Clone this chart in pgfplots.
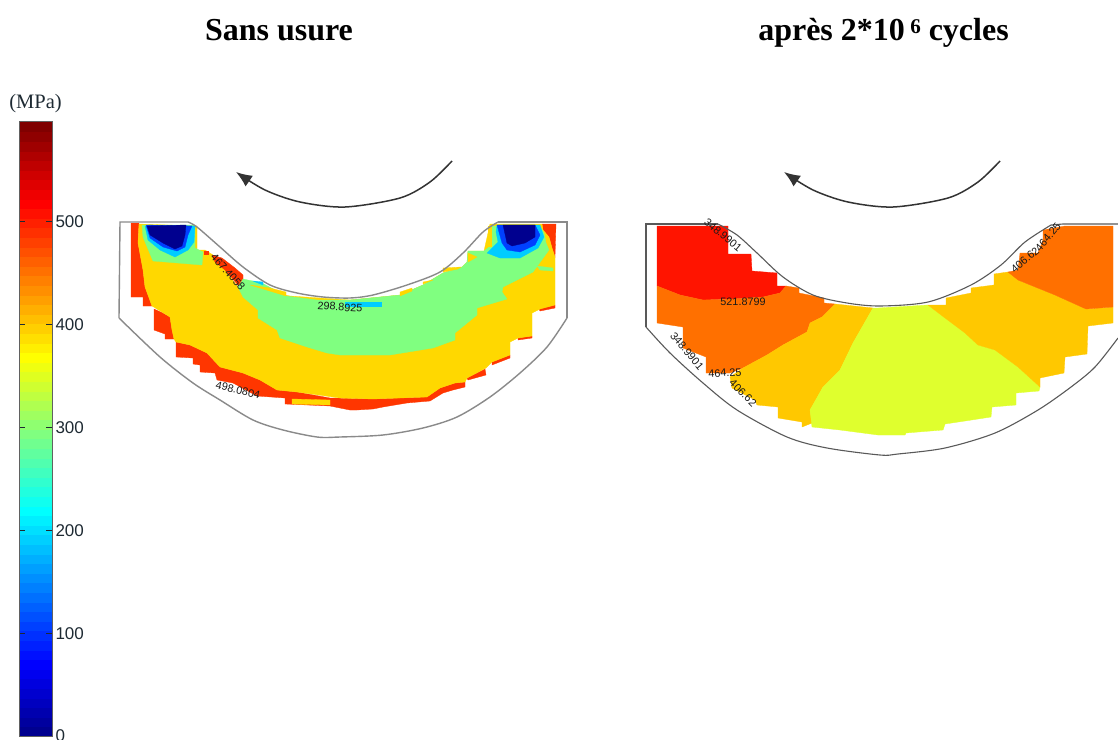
\documentclass[border=0pt]{standalone}
\usepackage{pgfplots}
\pgfplotsset{compat=1.18}
\usepackage{fontspec}
\setmainfont{Liberation Sans}
\newfontfamily\tnr{Liberation Serif}
\usetikzlibrary{arrows.meta}
\definecolor{lRed}{HTML}{FF3600}
\definecolor{lYel}{HTML}{FFD800}
\definecolor{lGrn}{HTML}{80FF80}
\definecolor{lCyn}{HTML}{00CCFF}
\definecolor{lBlu}{HTML}{0040FF}
\definecolor{lNav}{HTML}{00008F}
\definecolor{rRed}{HTML}{FF1400}
\definecolor{rOrg}{HTML}{FF7000}
\definecolor{rAmb}{HTML}{FFC800}
\definecolor{rLim}{HTML}{DFFF2E}
\definecolor{outl}{HTML}{8A8A8A}
\definecolor{txt}{HTML}{1E2A33}
\newcommand\band[5]{\addplot[fill={rgb,1:red,#3;green,#4;blue,#5},draw={rgb,1:red,#3;green,#4;blue,#5},line width=0.2pt] coordinates {(0,#1)(1,#1)(1,#2)(0,#2)} --cycle;}
\pgfplotsset{P/.style={fill=#1,draw=#1,line width=0.3pt}}
\begin{document}
\begin{tikzpicture}
\useasboundingbox (0,0) rectangle (1118pt,739pt);
\clip (0,0) rectangle (1118pt,739pt);
\begin{axis}[at={(0pt,0pt)},anchor=south west,width=1118pt,height=739pt,scale only axis,
  xmin=0,xmax=1118,ymin=0,ymax=739,y dir=reverse,hide axis]
% left field
\addplot[P=lRed] coordinates {(131,223)(139,223)(138,243)(143,270)(145,287)(152,306)(143,306)(143,297)(131,297)} --cycle;
\addplot[P=lRed] coordinates {(154,309)(163,313)(170,317)(172,330)(174,339)(165,339)(165,334)(154,330)} --cycle;
\addplot[P=lRed] coordinates {(176,342)(190,345)(207,353)(220,367)(243,373)(260,380)(277,390)(297,392)(330,398)(373,399)(400,398)(427,397)(440,388)(455,383)(465,382)(465,387)(453,390)(443,393)(430,401)(407,403)(383,407)(373,409)(357,410)(350,410)(340,408)(330,406)(285,404)(285,398)(257,396)(233,383)(217,380)(215,373)(200,372)(200,365)(193,364)(193,358)(176,357)} --cycle;
\addplot[P=lRed] coordinates {(467,378)(485,369)(486,375)(468,380)} --cycle;
\addplot[P=lRed] coordinates {(492,362)(510,355)(510,358)(492,365)} --cycle;
\addplot[P=lRed] coordinates {(518,338)(532,336)(532,338)(518,340)} --cycle;
\addplot[P=lRed] coordinates {(539,309)(555,305)(555,308)(540,311)} --cycle;
\addplot[P=lRed] coordinates {(542,224)(556,224)(555,257)(552,248)(549,237)(543,230)} --cycle;
\addplot[P=lYel] coordinates {(139,224)(197,226)(197,250)(205,250)(213,255)(225,270)(238,287)(290,296)(350,300)(400,295)(423,285)(443,273)(462,267)(467,262)(468,251)(484,251)(490,224)(542,224)(543,230)(549,237)(552,248)(555,257)(555,305)(540,309)(532,313)(532,336)(518,338)(510,342)(510,355)(492,362)(486,368)(467,378)(465,382)(455,383)(440,388)(427,397)(400,398)(373,399)(340,398)(297,392)(277,390)(260,380)(243,373)(220,367)(207,353)(190,345)(176,342)(174,339)(172,330)(170,317)(152,306)(145,287)(143,270)(138,243)} --cycle;
\addplot[P=lRed] coordinates {(212,255)(222,258)(235,268)(243,275)(243,283)(238,285)(225,270)(215,262)} --cycle;
\addplot[P=lRed] coordinates {(204,251)(208,251)(208,254)(204,254)} --cycle;
\addplot[P=lGrn] coordinates {(238,287)(243,279)(262,283)(286,296)(317,300)(350,300)(400,295)(423,285)(443,273)(462,267)(467,262)(468,251)(484,251)(489,247)(489,226)(540,226)(544,233)(546,243)(549,250)(533,272)(503,287)(502,292)(507,299)(477,308)(477,315)(455,333)(455,340)(433,348)(390,355)(340,355)(327,353)(307,347)(280,338)(277,330)(258,318)(258,310)(243,297)} --cycle;
\addplot[P=lGrn] coordinates {(537,266)(553,268)(553,271)(540,270)} --cycle;
\addplot[P=lYel] coordinates {(250,285)(270,288)(286,292)(286,296)(260,288)} --cycle;
\addplot[P=lYel] coordinates {(400,292)(412,288)(412,291)(400,296)} --cycle;
\addplot[P=lYel] coordinates {(423,282)(433,280)(423,284)} --cycle;
\addplot[P=lYel] coordinates {(443,268)(461,267)(458,269)(443,272)} --cycle;
\addplot[P=lYel] coordinates {(468,253)(477,257)(468,262)} --cycle;
\addplot[P=lYel] coordinates {(292,399)(330,400)(330,405)(292,404)} --cycle;
\addplot[P=lYel] coordinates {(488,226)(491,226)(491,246)(488,246)} --cycle;
\addplot[P=lCyn] coordinates {(345,302)(381,302)(381,306)(345,306)} --cycle;
\addplot[P=lCyn] coordinates {(253,281)(263,282)(263,285)} --cycle;
\addplot[P=lGrn] coordinates {(142,225)(143,237)(153,261)(202,265)(203,252)(195,248)(195,225)} --cycle;
\addplot[P=lCyn] coordinates {(145,226)(148,240)(160,250)(175,257)(188,250)(194,242)(195,226)} --cycle;
\addplot[P=lBlu] coordinates {(146,225)(150,238)(163,247)(177,251)(185,247)(188,235)(192,226)} --cycle;
\addplot[P=lNav] coordinates {(147,226)(150,235)(163,243)(175,249)(182,246)(185,235)(186,225)} --cycle;
\addplot[P=lCyn] coordinates {(487,253)(500,258)(520,258)(538,248)(544,237)(540,225)(497,225)(496,232)(498,242)} --cycle;
\addplot[P=lBlu] coordinates {(497,225)(502,243)(507,250)(520,252)(535,245)(540,235)(535,225)} --cycle;
\addplot[P=lNav] coordinates {(503,225)(507,243)(512,246)(525,243)(535,237)(535,225)} --cycle;
% left outline
\addplot[outl,line width=1.4pt] coordinates {(119,318)(120,222)(188,222)};
\addplot[outl,line width=1.4pt,smooth] coordinates {(188,222)(197,227)(220,247)(243,267)(270,285)(297,293)(323,297)(350,298)(373,295)(407,285)(440,272)(463,253)(483,232)(498,222)};
\addplot[outl,line width=1.4pt] coordinates {(498,222)(567,222)(567,318)};
\addplot[outl,line width=1.4pt,smooth] coordinates {(567,318)(547,347)(520,373)(490,397)(457,417)(423,428)(383,435)(340,437)(317,437)(283,430)(253,420)(220,400)(193,383)(160,357)(119,318)};
% right field
\addplot[P=rRed] coordinates {(657,226)(728,226)(728,254)(751,254)(752,271)(777,273)(777,286)(786,286)(780,293)(763,297)(733,299)(703,300)(680,295)(657,286)} --cycle;
\addplot[P=rOrg] coordinates {(657,286)(680,295)(703,300)(733,299)(763,297)(780,293)(786,286)(799,288)(799,293)(824,298)(824,303)(835,304)(822,317)(810,323)(807,332)(783,345)(767,355)(743,368)(730,373)(706,373)(706,357)(683,348)(683,327)(657,323)} --cycle;
\addplot[P=rAmb] coordinates {(835,304)(873,308)(853,343)(840,370)(823,387)(810,410)(812,423)(802,427)(802,422)(778,418)(778,407)(757,405)(755,400)(732,388)(730,377)(743,368)(767,355)(783,345)(807,332)(810,323)(822,317)} --cycle;
\addplot[P=rLim] coordinates {(873,308)(878,308)(928,305)(945,318)(965,333)(978,345)(995,350)(1018,367)(1040,387)(1039,391)(1016,393)(1016,405)(992,407)(991,417)(965,421)(945,424)(943,430)(906,433)(905,435)(878,435)(840,430)(812,427)(810,410)(823,387)(840,370)(853,343)} --cycle;
\addplot[P=rAmb] coordinates {(928,305)(946,305)(946,298)(971,293)(971,288)(994,285)(994,274)(1008,272)(1018,280)(1055,295)(1086,309)(1113,307)(1113,323)(1088,326)(1087,354)(1065,357)(1064,373)(1040,378)(1040,387)(1018,367)(995,350)(978,345)(965,333)(945,318)} --cycle;
\addplot[P=rOrg] coordinates {(1008,272)(1018,270)(1020,253)(1038,253)(1043,240)(1043,230)(1065,226)(1113,226)(1113,307)(1086,309)(1055,295)(1018,280)} --cycle;
% right outline
\addplot[black!65,line width=1.1pt] coordinates {(646,327)(646,224)(718,224)};
\addplot[black!65,line width=1.1pt,smooth] coordinates {(718,224)(737,235)(757,253)(783,277)(813,295)(847,303)(880,306)(928,302)(971,285)(1001,265)(1025,242)(1051,225)};
\addplot[black!65,line width=1.1pt] coordinates {(1051,225)(1063,224)(1118,224)};
\addplot[black!65,line width=1.1pt,smooth] coordinates {(1118,338)(1095,367)(1071,387)(1038,410)(995,433)(945,448)(898,454)(880,455)(827,448)(787,437)(737,410)(703,383)(670,353)(646,327)};
% arrows
\addplot[black!80,line width=1.5pt,smooth,-{Latex[length=16pt,width=13pt]}] coordinates {(452,161)(430,182)(400,198)(345,207)(300,202)(265,190)(236,172)};
\addplot[black!80,line width=1.5pt,smooth,-{Latex[length=16pt,width=13pt]}] coordinates {(1000,161)(978,182)(948,198)(893,207)(848,202)(813,190)(784,172)};
% texts
\node[font=\tnr\bfseries\fontsize{32}{36}\selectfont,inner sep=0pt,anchor=base] at (axis cs:279,41) {Sans usure};
\node[font=\tnr\bfseries\fontsize{32}{36}\selectfont,inner sep=0pt,anchor=base] at (axis cs:883.5,41) {après 2*10\,\raisebox{7pt}{\fontsize{21}{24}\selectfont 6} cycles};
\node[font=\tnr\fontsize{20.5}{24}\selectfont,text=txt,inner sep=0pt] at (axis cs:35.5,104) {(MPa)};
\tikzset{lab/.style={font=\fontsize{10.8}{12}\selectfont,inner sep=0pt,text=black!90}}
\node[lab,rotate=-4] at (axis cs:340,307) {298.8925};
\node[lab,rotate=-48] at (axis cs:228,272) {467.4058};
\node[lab,rotate=-14] at (axis cs:238,390) {498.0804};
\node[lab,rotate=-40] at (axis cs:723,235) {348.9901};
\node[lab] at (axis cs:743,302) {521.8799};
\node[lab,rotate=-50] at (axis cs:687,351) {348.9901};
\node[lab,rotate=3] at (axis cs:725,373) {464.25};
\node[lab,rotate=-45] at (axis cs:743,393) {406.62};
\node[lab,rotate=40] at (axis cs:1025,260) {406.62};
\node[lab,rotate=50] at (axis cs:1048,237) {464.25};
\end{axis}
\begin{axis}[at={(19pt,3pt)},anchor=south west,width=33pt,height=614pt,scale only axis,
  xmin=0,xmax=1,ymin=0,ymax=597,xtick=\empty,ytick={0,100,200,300,400,500},
  tick align=inside,yticklabel pos=right,ytick pos=both,axis on top,
  axis line style={outl!70!black,line width=1pt},
  major tick length=6pt,
  tick style={txt,line width=0.8pt},
  /pgf/number format/assume math mode=true,
  tick label style={font=\fontsize{17}{18}\selectfont,text=txt},
  yticklabel style={xshift=0pt}]
\band{0}{9.33}{0}{0}{0.5625}
\band{9.33}{18.66}{0}{0}{0.625}
\band{18.66}{27.98}{0}{0}{0.6875}
\band{27.98}{37.31}{0}{0}{0.75}
\band{37.31}{46.64}{0}{0}{0.8125}
\band{46.64}{55.97}{0}{0}{0.875}
\band{55.97}{65.30}{0}{0}{0.9375}
\band{65.30}{74.63}{0}{0}{1}
\band{74.63}{83.95}{0}{0.0625}{1}
\band{83.95}{93.28}{0}{0.125}{1}
\band{93.28}{102.61}{0}{0.1875}{1}
\band{102.61}{111.94}{0}{0.25}{1}
\band{111.94}{121.27}{0}{0.3125}{1}
\band{121.27}{130.59}{0}{0.375}{1}
\band{130.59}{139.92}{0}{0.4375}{1}
\band{139.92}{149.25}{0}{0.5}{1}
\band{149.25}{158.58}{0}{0.5625}{1}
\band{158.58}{167.91}{0}{0.625}{1}
\band{167.91}{177.23}{0}{0.6875}{1}
\band{177.23}{186.56}{0}{0.75}{1}
\band{186.56}{195.89}{0}{0.8125}{1}
\band{195.89}{205.22}{0}{0.875}{1}
\band{205.22}{214.55}{0}{0.9375}{1}
\band{214.55}{223.88}{0}{1}{1}
\band{223.88}{233.20}{0.0625}{1}{0.9375}
\band{233.20}{242.53}{0.125}{1}{0.875}
\band{242.53}{251.86}{0.1875}{1}{0.8125}
\band{251.86}{261.19}{0.25}{1}{0.75}
\band{261.19}{270.52}{0.3125}{1}{0.6875}
\band{270.52}{279.84}{0.375}{1}{0.625}
\band{279.84}{289.17}{0.4375}{1}{0.5625}
\band{289.17}{298.50}{0.5}{1}{0.5}
\band{298.50}{307.83}{0.5625}{1}{0.4375}
\band{307.83}{317.16}{0.625}{1}{0.375}
\band{317.16}{326.48}{0.6875}{1}{0.3125}
\band{326.48}{335.81}{0.75}{1}{0.25}
\band{335.81}{345.14}{0.8125}{1}{0.1875}
\band{345.14}{354.47}{0.875}{1}{0.125}
\band{354.47}{363.80}{0.9375}{1}{0.0625}
\band{363.80}{373.13}{1}{1}{0}
\band{373.13}{382.45}{1}{0.9375}{0}
\band{382.45}{391.78}{1}{0.875}{0}
\band{391.78}{401.11}{1}{0.8125}{0}
\band{401.11}{410.44}{1}{0.75}{0}
\band{410.44}{419.77}{1}{0.6875}{0}
\band{419.77}{429.09}{1}{0.625}{0}
\band{429.09}{438.42}{1}{0.5625}{0}
\band{438.42}{447.75}{1}{0.5}{0}
\band{447.75}{457.08}{1}{0.4375}{0}
\band{457.08}{466.41}{1}{0.375}{0}
\band{466.41}{475.73}{1}{0.3125}{0}
\band{475.73}{485.06}{1}{0.25}{0}
\band{485.06}{494.39}{1}{0.1875}{0}
\band{494.39}{503.72}{1}{0.125}{0}
\band{503.72}{513.05}{1}{0.0625}{0}
\band{513.05}{522.38}{1}{0}{0}
\band{522.38}{531.70}{0.9375}{0}{0}
\band{531.70}{541.03}{0.875}{0}{0}
\band{541.03}{550.36}{0.8125}{0}{0}
\band{550.36}{559.69}{0.75}{0}{0}
\band{559.69}{569.02}{0.6875}{0}{0}
\band{569.02}{578.34}{0.625}{0}{0}
\band{578.34}{587.67}{0.5625}{0}{0}
\band{587.67}{597}{0.5}{0}{0}
\end{axis}
\end{tikzpicture}
\end{document}
